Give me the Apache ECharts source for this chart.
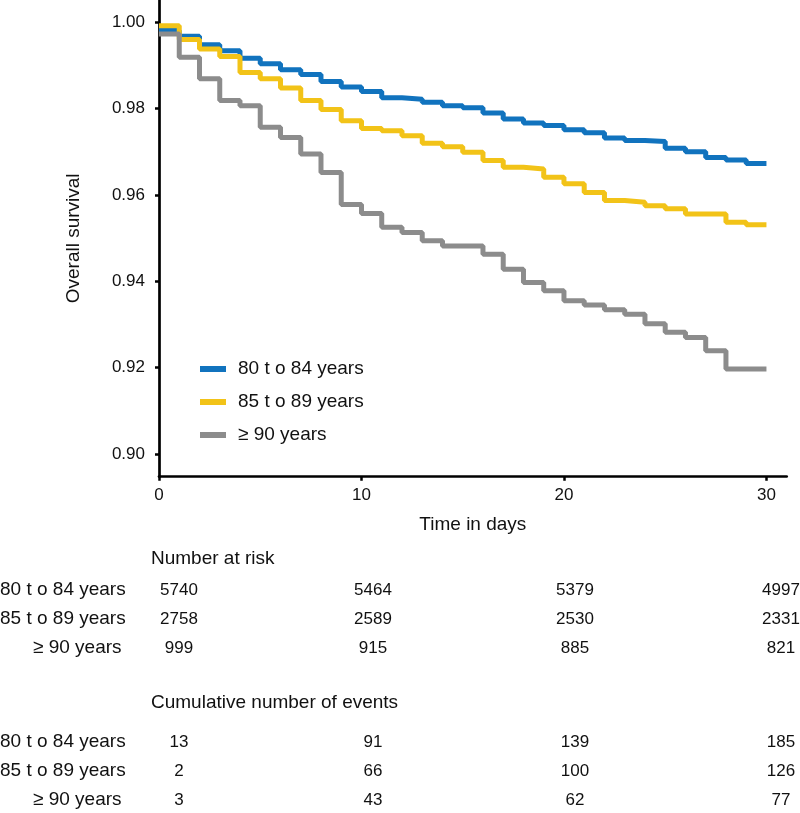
<!DOCTYPE html>
<html>
<head>
<meta charset="utf-8">
<script src="https://cdn.jsdelivr.net/npm/echarts@6/dist/echarts.min.js"></script>
<style>
html,body{margin:0;padding:0;background:#fff;}
#chart{width:800px;height:813px;}
</style>
</head>
<body>
<div id="chart"></div>
<script>
// ---- data ----
const groupNames = ['80 t o 84 years', '85 t o 89 years', '\u2265 90 years'];
// survival value on each day interval [d, d+1), d = 0..29
const survival80to84 = [0.9981,0.9968,0.9948,0.9934,0.9917,0.9904,0.9890,0.9879,0.9863,0.9850,0.9840,0.9825,0.9822,0.9815,0.9807,0.9802,0.9790,0.9776,0.9767,0.9761,0.9751,0.9744,0.9732,0.9726,0.9724,0.9708,0.9700,0.9687,0.9681,0.9673];
const survival85to89 = [0.9992,0.9960,0.9938,0.9921,0.9884,0.9869,0.9848,0.9819,0.9798,0.9772,0.9754,0.9749,0.9737,0.9720,0.9712,0.9699,0.9680,0.9664,0.9660,0.9641,0.9626,0.9606,0.9587,0.9583,0.9575,0.9568,0.9556,0.9556,0.9537,0.9531];
const survival90plus = [0.9973,0.9919,0.9869,0.9819,0.9807,0.9757,0.9733,0.9695,0.9652,0.9578,0.9557,0.9525,0.9513,0.9494,0.9482,0.9482,0.9463,0.9428,0.9397,0.9378,0.9355,0.9345,0.9334,0.9324,0.9302,0.9282,0.9270,0.9239,0.9197,0.9197];
const xTicks = [0, 10, 20, 30];
const yTicks = [0.90, 0.92, 0.94, 0.96, 0.98, 1.00];
const riskTitle = 'Number at risk';
const riskTimes = [0, 10, 20, 30];
const risk80to84 = [5740, 5464, 5379, 4997];
const risk85to89 = [2758, 2589, 2530, 2331];
const risk90plus = [999, 915, 885, 821];
const eventsTitle = 'Cumulative number of events';
const events80to84 = [13, 91, 139, 185];
const events85to89 = [2, 66, 100, 126];
const events90plus = [3, 43, 62, 77];

// ---- helpers ----
const FONT = '"Liberation Sans", Arial, Helvetica, sans-serif';
function toSteps(vals) {
  const pts = vals.map((v, i) => [i, v]);
  pts.push([vals.length, vals[vals.length - 1]]);
  return pts;
}
const colors = ['#1173BE', '#F2C318', '#8C8C8C'];
const seriesVals = [survival80to84, survival85to89, survival90plus];

// table layout
const colX = [179, 373, 575, 781];
const riskRowsY = [590, 619, 648];
const eventRowsY = [742, 771, 800];
const labelX = [0, 0, 33];
const riskRows = [risk80to84, risk85to89, risk90plus];
const eventRows = [events80to84, events85to89, events90plus];

const graphics = [];
function txt(t, x, y, align, size) {
  graphics.push({type: 'text', x: x, y: y, silent: true,
    style: {text: String(t), fill: '#111', font: size + 'px ' + FONT, textAlign: align, textVerticalAlign: 'middle'}});
}
txt(riskTitle, 151, 559, 'left', 19);
txt(eventsTitle, 151, 703, 'left', 19);
for (let r = 0; r < 3; r++) {
  txt(groupNames[r], labelX[r], riskRowsY[r], 'left', 19);
  txt(groupNames[r], labelX[r], eventRowsY[r], 'left', 19);
  for (let c = 0; c < riskTimes.length; c++) {
    txt(riskRows[r][c], colX[c], riskRowsY[r], 'center', 17);
    txt(eventRows[r][c], colX[c], eventRowsY[r], 'center', 17);
  }
}

const chart = echarts.init(document.getElementById('chart'), null, {renderer: 'canvas'});
const drawOrder = [2, 0, 1];
chart.setOption({
  backgroundColor: '#fff',
  animation: false,
  textStyle: {fontFamily: FONT},
  grid: {left: 159, right: 13.3, top: 0, bottom: 336.3, containLabel: false, outerBoundsMode: 'none'},
  legend: {
    data: groupNames,
    orient: 'vertical',
    left: 200,
    top: 359,
    padding: 0,
    icon: 'rect',
    itemWidth: 26,
    itemHeight: 6,
    itemGap: 13,
    textStyle: {fontSize: 19, color: '#111', fontFamily: FONT, lineHeight: 20, padding: [0, 0, 0, 7]}
  },
  xAxis: {
    type: 'value', min: 0, max: 31,
    name: 'Time in days', nameLocation: 'middle', nameGap: 39,
    nameTextStyle: {fontSize: 19, color: '#111', fontFamily: FONT},
    axisLine: {lineStyle: {color: '#000', width: 2.7}},
    axisTick: {show: true, length: 4, lineStyle: {color: '#000', width: 2.5}, customValues: xTicks},
    axisLabel: {fontSize: 17, color: '#111', margin: 10, customValues: xTicks, fontFamily: FONT},
    splitLine: {show: false}
  },
  yAxis: {
    type: 'value', min: 0.89474, max: 1.00517,
    name: 'Overall survival', nameLocation: 'middle', nameGap: 76,
    nameTextStyle: {fontSize: 19, color: '#111', fontFamily: FONT},
    axisLine: {show: true, lineStyle: {color: '#000', width: 2.7}},
    axisTick: {show: true, length: 4, lineStyle: {color: '#000', width: 2.5}, customValues: yTicks},
    axisLabel: {fontSize: 17, color: '#111', margin: 14, customValues: yTicks, fontFamily: FONT,
      formatter: v => Number(v).toFixed(2)},
    splitLine: {show: false}
  },
  series: drawOrder.map(i => ({
    name: groupNames[i],
    type: 'line',
    step: 'end',
    data: toSteps(seriesVals[i]),
    showSymbol: false,
    symbol: 'none',
    color: colors[i],
    lineStyle: {color: colors[i], width: 5},
    itemStyle: {color: colors[i]},
    z: 2 + i
  })),
  graphic: graphics
});
</script>
</body>
</html>
